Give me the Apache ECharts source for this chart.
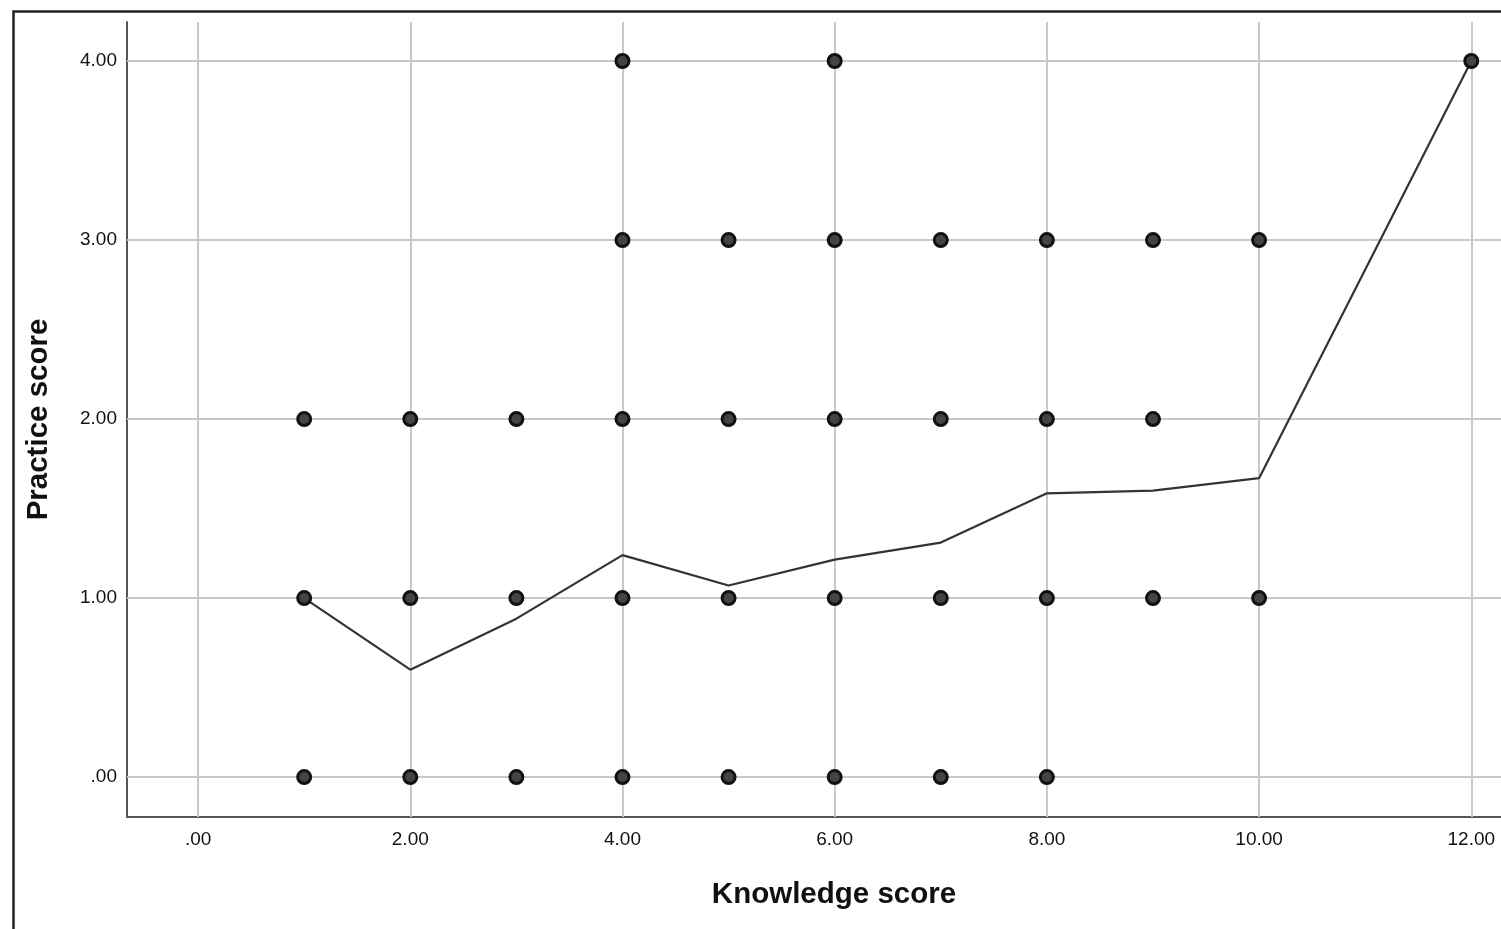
<!DOCTYPE html>
<html>
<head>
<meta charset="utf-8">
<script src="https://cdn.jsdelivr.net/npm/echarts@6/dist/echarts.min.js"></script>
<style>
html,body{margin:0;padding:0;background:#fff;}
#chart{width:1501px;height:929px;}
</style>
</head>
<body>
<div id="chart"></div>
<script>
// Knowledge score vs practice score (observed points)
const pointsY4 = [4, 6, 12];
const pointsY3 = [4, 5, 6, 7, 8, 9, 10];
const pointsY2 = [1, 2, 3, 4, 5, 6, 7, 8, 9];
const pointsY1 = [1, 2, 3, 4, 5, 6, 7, 8, 9, 10];
const pointsY0 = [1, 2, 3, 4, 5, 6, 7, 8];
// Mean practice score per knowledge score (line)
const meanX = [1, 2, 3, 4, 5, 6, 7, 8, 9, 10, 12];
const meanY = [1.00, 0.60, 0.885, 1.24, 1.07, 1.215, 1.31, 1.585, 1.60, 1.67, 4.00];
// Tick labels
const xTicks = [0, 2, 4, 6, 8, 10, 12];
const yTicks = [0, 1, 2, 3, 4];

const scatterData = [];
[[4, pointsY4], [3, pointsY3], [2, pointsY2], [1, pointsY1], [0, pointsY0]].forEach(([y, xs]) => {
  xs.forEach(x => scatterData.push([x, y]));
});
const lineData = meanX.map((x, i) => [x, meanY[i]]);

const fmt = v => (Math.abs(v) < 1e-9 ? '.00' : v.toFixed(2));
const FONT = '"Liberation Sans", Arial, sans-serif';

const chart = echarts.init(document.getElementById('chart'), null, {renderer: 'canvas'});
chart.setOption({
  animation: false,
  backgroundColor: '#fff',
  graphic: [{
    type: 'rect', left: 11, top: 9, z: 100, silent: true,
    shape: {x: 0, y: 0, width: 1600, height: 1000},
    style: {fill: 'none', stroke: '#222', lineWidth: 2.5}
  }],
  grid: {left: 127, right: 0, top: 22, bottom: 112, containLabel: false},
  xAxis: {
    type: 'value', min: -0.67, max: 12.28,
    name: 'Knowledge score', nameLocation: 'middle', nameGap: 63,
    nameTextStyle: {fontFamily: FONT, fontSize: 29.5, fontWeight: 'bold', color: '#111', padding: [0, 0, 0, 40]},
    axisLine: {show: true, onZero: false, lineStyle: {color: '#555', width: 2}},
    axisTick: {show: false, customValues: xTicks},
    axisLabel: {customValues: xTicks, formatter: fmt, fontFamily: FONT, fontSize: 19, color: '#111', margin: 13},
    splitLine: {show: false}
  },
  yAxis: {
    type: 'value', min: -0.223, max: 4.218,
    name: 'Practice score', nameLocation: 'middle', nameGap: 73,
    nameTextStyle: {fontFamily: FONT, fontSize: 29.5, fontWeight: 'bold', color: '#111'},
    axisLine: {show: true, onZero: false, lineStyle: {color: '#555', width: 2}},
    axisTick: {show: false, customValues: yTicks},
    axisLabel: {customValues: yTicks, formatter: fmt, fontFamily: FONT, fontSize: 19, color: '#111', margin: 10},
    splitLine: {show: false}
  },
  series: [
    {
      type: 'line', data: lineData, symbol: 'none', z: 3,
      lineStyle: {color: '#333', width: 2.2},
      markLine: {
        silent: true, symbol: 'none', z: 1,
        label: {show: false},
        lineStyle: {color: '#c9c9c9', width: 2, type: 'solid'},
        data: xTicks.map(v => ({xAxis: v})).concat(yTicks.map(v => ({yAxis: v})))
      }
    },
    {
      type: 'scatter', data: scatterData, symbol: 'circle', symbolSize: 13, z: 5,
      itemStyle: {color: '#444', borderColor: '#111', borderWidth: 3, opacity: 1}
    }
  ]
});
</script>
</body>
</html>
